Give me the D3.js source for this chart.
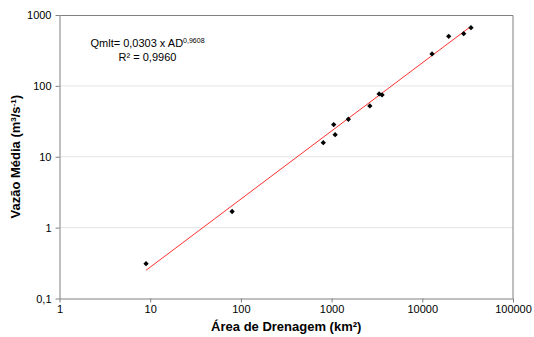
<!DOCTYPE html>
<html>
<head>
<meta charset="utf-8">
<script src="https://cdn.jsdelivr.net/npm/d3@7"></script>
<style>
  body { margin: 0; background: #fff; }
  text { font-family: "Liberation Sans", Arial, sans-serif; fill: #000; }
</style>
</head>
<body>
<div id="chart"></div>
<script>
// drainage area (km²) and mean discharge (m³/s) per station
const areaKm2 = [9, 80, 810, 1055, 1095, 1530, 2640, 3340, 3600, 12800, 19550, 28600, 34400];
const vazao   = [0.31, 1.69, 15.8, 28.4, 20.5, 33.8, 52.1, 76.9, 74.5, 282, 500, 545, 662];
const xTicks = [1, 10, 100, 1000, 10000, 100000];
const yTicks = [0.1, 1, 10, 100, 1000];
// power trendline Q = a * A^b
const trendA = 0.0303;
const trendB = 0.9608;

const margin = {top: 15, right: 21, bottom: 38.5, left: 59.5};
const width = 534 - margin.left - margin.right;
const height = 337 - margin.top - margin.bottom;

const svg = d3.select("#chart")
  .append("svg")
  .attr("width", 534)
  .attr("height", 337)
  .append("g")
  .attr("transform", "translate(" + margin.left + "," + margin.top + ")");

const x = d3.scaleLog().domain([1, 100000]).range([0, width]);
const y = d3.scaleLog().domain([0.1, 1000]).range([height, 0]);

// horizontal gridlines
svg.selectAll(".grid")
  .data(yTicks.slice(1, -1))
  .enter()
  .append("line")
  .attr("x1", 0)
  .attr("x2", width)
  .attr("y1", d => y(d))
  .attr("y2", d => y(d))
  .attr("stroke", "#e4e4e4")
  .attr("stroke-width", 1);

// top and right frame
svg.append("path")
  .attr("d", "M0,0.5H" + width + "V" + height)
  .attr("fill", "none")
  .attr("stroke", "#808080");

const fmt = d => String(d).replace(".", ",");

const xAxis = svg.append("g")
  .attr("transform", "translate(0," + height + ")")
  .call(d3.axisBottom(x).tickValues(xTicks).tickFormat(fmt).tickSize(4).tickSizeOuter(0).tickPadding(3));

const yAxis = svg.append("g")
  .call(d3.axisLeft(y).tickValues(yTicks).tickFormat(fmt).tickSize(4).tickSizeOuter(0).tickPadding(4));

[xAxis, yAxis].forEach(g => {
  g.selectAll("path, line").attr("stroke", "#808080");
  g.selectAll("text").style("font-size", "11px").attr("fill", "#000")
    .style("font-family", "'Liberation Sans', Arial, sans-serif");
});

// trendline
const xMin = d3.min(areaKm2), xMax = d3.max(areaKm2);
svg.append("line")
  .attr("x1", x(xMin))
  .attr("y1", y(trendA * Math.pow(xMin, trendB)))
  .attr("x2", x(xMax))
  .attr("y2", y(trendA * Math.pow(xMax, trendB)))
  .attr("stroke", "#ff3030")
  .attr("stroke-width", 1);

// points
svg.selectAll(".pt")
  .data(areaKm2)
  .enter()
  .append("path")
  .attr("d", d3.symbol().type(d3.symbolDiamond2).size(18))
  .attr("transform", (d, i) => "translate(" + x(d) + "," + y(vazao[i]) + ")")
  .attr("fill", "#000");

// equation
const eq = svg.append("text")
  .attr("x", 88)
  .attr("y", 32)
  .attr("text-anchor", "middle")
  .style("font-size", "11px");
eq.append("tspan").text("Qmlt= 0,0303 x AD");
eq.append("tspan").attr("dy", -4).style("font-size", "7px").text("0,9608");

svg.append("text")
  .attr("x", 88)
  .attr("y", 46)
  .attr("text-anchor", "middle")
  .style("font-size", "11px")
  .text("R² = 0,9960");

// axis titles
svg.append("text")
  .attr("x", width / 2)
  .attr("y", height + 32)
  .attr("text-anchor", "middle")
  .style("font-size", "13px")
  .style("font-weight", "bold")
  .text("Área de Drenagem (km²)");

const yt = svg.append("text")
  .attr("transform", "translate(" + (-40) + "," + (height / 2) + ") rotate(-90)")
  .attr("text-anchor", "middle")
  .style("font-size", "13px")
  .style("font-weight", "bold");
yt.append("tspan").text("Vazão Média (m");
yt.append("tspan").attr("dy", -4).style("font-size", "8px").text("3");
yt.append("tspan").attr("dy", 4).text("/s");
yt.append("tspan").attr("dy", -4).style("font-size", "8px").text("-1");
yt.append("tspan").attr("dy", 4).text(")");
</script>
</body>
</html>
